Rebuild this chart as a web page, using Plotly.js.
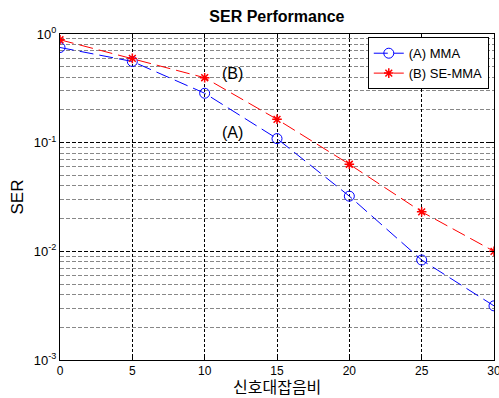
<!DOCTYPE html>
<html>
<head>
<meta charset="utf-8">
<script src="https://cdn.plot.ly/plotly-3.0.1.min.js"></script>
<style>html,body{margin:0;padding:0;background:#fff;}#chart{width:499px;height:398px;}</style>
</head>
<body>
<div id="chart"></div>
<script>
const snr = [0, 5, 10, 15, 20, 25, 30];
const serMMA = [0.751, 0.559, 0.285, 0.109, 0.0322, 0.00832, 0.00315];
const serSEMMA = [0.885, 0.596, 0.396, 0.164, 0.0633, 0.0231, 0.0100];
const seriesNames = ['(A) MMA', '(B) SE-MMA'];
const xTicks = [0, 5, 10, 15, 20, 25, 30];
const yTickVals = [0.001, 0.01, 0.1, 1];
const yTickText = ['10<sup>-3</sup>', '10<sup>-2</sup>', '10<sup>-1</sup>', '10<sup>0</sup>'];
const labelA = '(A)', labelB = '(B)';
const xTitle = '신호대잡음비';

const traces = [
  {x: snr, y: serMMA, name: seriesNames[0], type: 'scatter', mode: 'lines+markers',
   line: {color: '#0000ff', width: 1, dash: '14px,6px'},
   marker: {symbol: 'circle-open', size: 10, color: '#0000ff', line: {width: 1}}},
  {x: snr, y: serSEMMA, name: seriesNames[1], type: 'scatter', mode: 'lines+markers',
   line: {color: '#ff0000', width: 1, dash: '14px,6px'},
   marker: {symbol: 'asterisk-open', size: 8, color: '#ff0000', line: {width: 1.5, color: '#ff0000'}}}
];

const layout = {
  width: 499, height: 398,
  margin: {l: 60, r: 5, t: 34, b: 38, pad: 0},
  paper_bgcolor: '#fff', plot_bgcolor: '#fff',
  font: {family: 'Liberation Sans, Arial, sans-serif', size: 13, color: '#000'},
  title: {text: '<b>SER Performance</b>', x: 0.555, xanchor: 'center', y: 0.958, yanchor: 'middle',
          font: {size: 16, family: 'Liberation Sans, Arial, sans-serif', color: '#000'}},
  showlegend: true,
  legend: {x: 0.988, y: 0.99, xanchor: 'right', yanchor: 'top', bgcolor: '#fff',
           bordercolor: '#000', borderwidth: 1, font: {size: 13},
           tracegroupgap: 0},
  xaxis: {range: [0, 30], tickvals: xTicks, ticks: 'inside', ticklen: 4, tickcolor: '#000',
          ticklabeloverflow: 'allow', tickfont: {size: 12},
          showline: true, linecolor: '#000', linewidth: 1, mirror: 'ticks',
          showgrid: true, gridcolor: '#000', griddash: '3px,2px', gridwidth: 1,
          zeroline: false},
  yaxis: {type: 'log', range: [-3, 0], tickvals: yTickVals, ticktext: yTickText,
          ticks: 'inside', ticklen: 4, tickcolor: '#000', tickfont: {size: 13},
          showline: true, linecolor: '#000', linewidth: 1, mirror: 'ticks',
          showgrid: true, gridcolor: '#000', griddash: '4px,2px', gridwidth: 1,
          minor: {dtick: 'D1', showgrid: true, gridcolor: '#888', griddash: '4px,2px', gridwidth: 1, ticks: ''},
          zeroline: false,
          title: {text: 'SER', standoff: 5, font: {size: 17, color: '#000'}}},
  annotations: [
    {x: 11.95, y: Math.log10(0.434), xref: 'x', yref: 'y', text: labelB, showarrow: false, font: {size: 16}},
    {x: 11.95, y: Math.log10(0.125), xref: 'x', yref: 'y', text: labelA, showarrow: false, font: {size: 16}},
    {x: 0.5, y: 0, xref: 'paper', yref: 'paper', xanchor: 'center', yanchor: 'middle', yshift: -26,
     text: xTitle, showarrow: false, font: {family: 'Noto Sans CJK KR', size: 16, color: '#000'}}
  ]
};

Plotly.newPlot('chart', traces, layout, {displayModeBar: false, staticPlot: true});
</script>
</body>
</html>
